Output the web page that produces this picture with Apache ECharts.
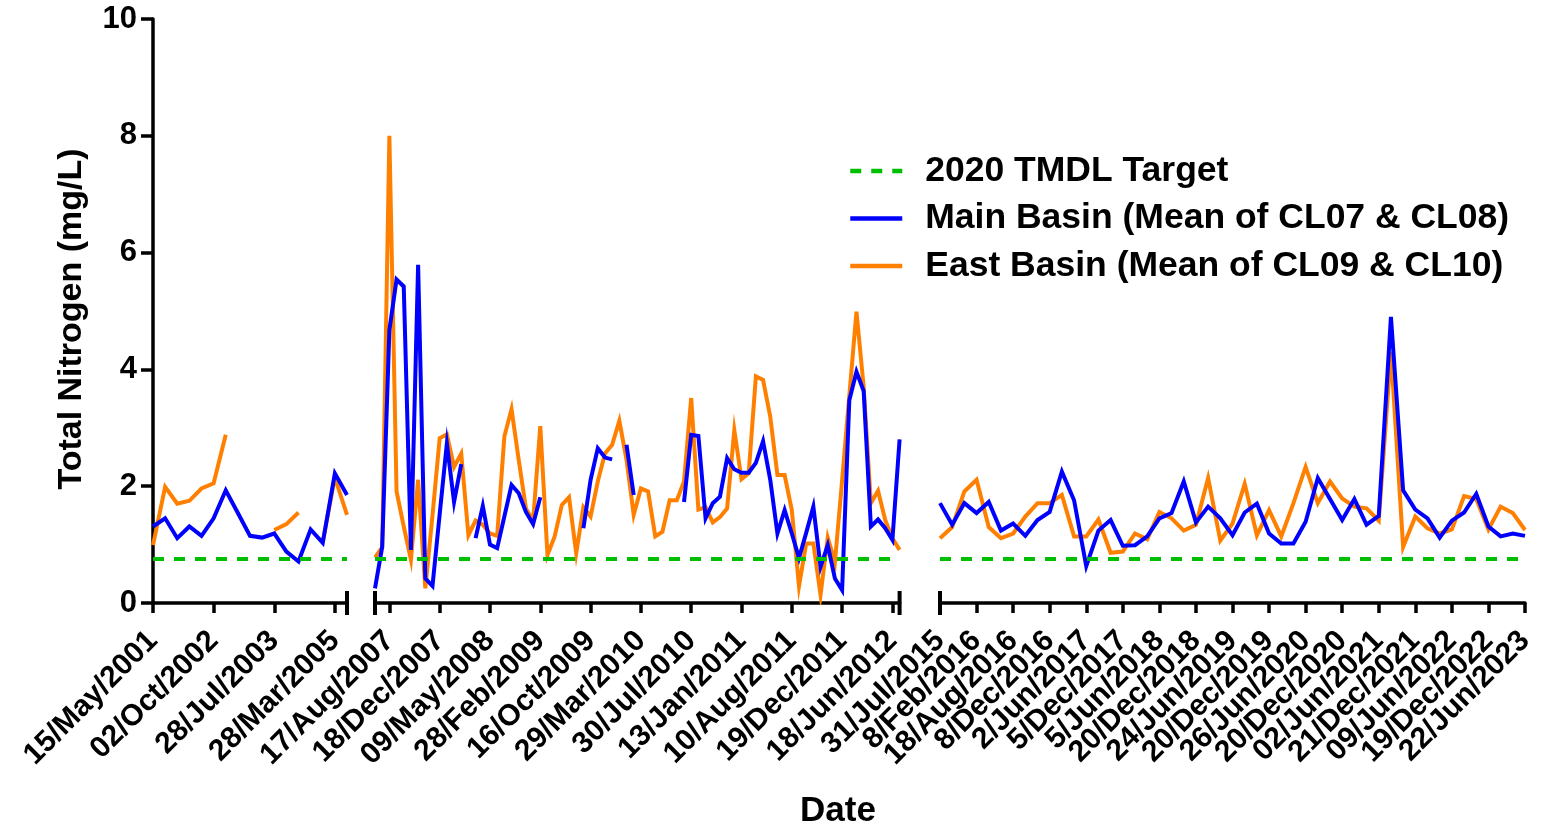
<!DOCTYPE html>
<html>
<head>
<meta charset="utf-8">
<title>Total Nitrogen</title>
<script src="https://cdn.jsdelivr.net/npm/echarts@6/dist/echarts.min.js"></script>
<style>
  html, body { margin: 0; padding: 0; background: #fff; }
  #chart { width: 1552px; height: 832px; }
</style>
</head>
<body>
<div id="chart"></div>
<script>
// 目标值
var target = 0.75
var targetName = '2020 TMDL Target'
var mainName = 'Main Basin (Mean of CL07 & CL08)'
var eastName = 'East Basin (Mean of CL09 & CL10)'

// 第一段 2001-2005
var seg1Ticks = ['15/May/2001', '02/Oct/2002', '28/Jul/2003', '28/Mar/2005']
var seg1Main = [1.31, 1.45, 1.11, 1.31, 1.15, 1.45, 1.93, 1.54, 1.15, 1.12, 1.19, 0.88, 0.71, 1.26, 1.03, 2.22, 1.85]
var seg1East = [0.99, 1.99, 1.70, 1.75, 1.96, 2.05, 2.88, null, null, null, 1.25, 1.35, 1.55, null, 1.05, 2.15, 1.51]

// 第二段 2007-2012
var seg2Ticks = ['17/Aug/2007', '18/Dec/2007', '09/May/2008', '28/Feb/2009', '16/Oct/2009', '29/Mar/2010',
  '30/Jul/2010', '13/Jan/2011', '10/Aug/2011', '19/Dec/2011', '18/Jun/2012']
var seg2Main = [0.25, 0.96, 4.67, 5.54, 5.42, 0.91, 5.79, 0.42, 0.29, 1.52,
  2.73, 1.73, 2.38, null, 1.11, 1.66, 1.00, 0.94, 1.48, 2.02,
  1.88, 1.56, 1.35, 1.81, null, null, null, null, null, 1.28,
  2.11, 2.65, 2.49, 2.46, null, 2.71, 1.85, null, null, null,
  null, null, null, 1.73, 2.88, 2.86, 1.45, 1.71, 1.82, 2.48,
  2.29, 2.23, 2.23, 2.40, 2.77, 2.11, 1.19, 1.59, 1.19, 0.77,
  1.20, 1.65, 0.62, 0.99, 0.42, 0.22, 3.47, 3.96, 3.63, 1.31,
  1.43, 1.28, 1.08, 2.80]
var seg2East = [0.78, 0.95, 8.00, 1.91, 1.31, 0.74, 2.11, 0.25, 1.50, 2.82,
  2.89, 2.33, 2.56, 1.16, 1.41, 1.34, 1.19, 1.15, 2.85, 3.32,
  2.45, 1.62, 1.41, 3.03, 0.82, 1.14, 1.68, 1.81, 0.85, 1.64,
  1.48, 2.08, 2.56, 2.71, 3.12, 2.45, 1.51, 1.96, 1.91, 1.14,
  1.22, 1.76, 1.76, 2.08, 3.51, 1.60, 1.64, 1.38, 1.47, 1.62,
  2.96, 2.12, 2.22, 3.88, 3.82, 3.19, 2.19, 2.19, 1.59, 0.29,
  1.02, 1.02, 0.14, 1.12, 0.70, 2.10, 3.55, 4.99, 3.70, 1.71,
  1.92, 1.42, 1.11, 0.91]

// 第三段 2015-2023
var seg3Ticks = ['31/Jul/2015', '8/Feb/2016', '18/Aug/2016', '8/Dec/2016', '2/Jun/2017', '5/Dec/2017',
  '5/Jun/2018', '20/Dec/2018', '24/Jun/2019', '20/Dec/2019', '26/Jun/2020', '20/Dec/2020',
  '02/Jun/2021', '21/Dec/2021', '09/Jun/2022', '19/Dec/2022', '22/Jun/2023']
var seg3Main = [1.71, 1.34, 1.71, 1.54, 1.73, 1.24, 1.36, 1.15, 1.42, 1.56,
  2.25, 1.76, 0.63, 1.24, 1.42, 0.98, 0.99, 1.14, 1.45, 1.54,
  2.08, 1.38, 1.65, 1.45, 1.16, 1.55, 1.70, 1.19, 1.02, 1.02,
  1.39, 2.14, 1.78, 1.42, 1.78, 1.34, 1.49, 4.90, 1.93, 1.60,
  1.45, 1.12, 1.41, 1.55, 1.87, 1.31, 1.14, 1.19, 1.15]
var seg3East = [1.11, 1.30, 1.91, 2.11, 1.30, 1.11, 1.19, 1.48, 1.71, 1.71,
  1.85, 1.14, 1.14, 1.43, 0.86, 0.88, 1.19, 1.09, 1.56, 1.45,
  1.24, 1.34, 2.14, 1.07, 1.36, 2.04, 1.16, 1.59, 1.14, 1.71,
  2.33, 1.71, 2.08, 1.79, 1.65, 1.62, 1.41, 4.30, 0.96, 1.48,
  1.28, 1.19, 1.26, 1.83, 1.78, 1.26, 1.65, 1.54, 1.25]

var font = '"Liberation Sans", Arial, Helvetica, sans-serif'
var green = '#00bf00'
var blue = '#0000ff'
var orange = '#ff8000'
var axisStyle = { color: '#000', width: 3.5 }

function makeXAxis (gi, count, ticks, offset, step, breaks) {
  var cats = []
  for (var i = 0; i < count; i++) cats.push(String(i))
  var show = function (i) { return i >= offset && (i - offset) % step === 0 }
  return {
    type: 'category',
    gridIndex: gi,
    boundaryGap: false,
    data: cats,
    // 断轴标记
    axisLine: { lineStyle: axisStyle, symbol: breaks, symbolSize: [24, 4] },
    axisTick: { length: 10, lineStyle: axisStyle, interval: show },
    // interval 0 让 echarts 不去隐藏首尾相邻的标签，空字符串代替不显示的
    axisLabel: {
      interval: 0,
      hideOverlap: false,
      rotate: 45,
      margin: 33,
      color: '#000',
      fontSize: 30,
      fontWeight: 'bold',
      fontFamily: font,
      formatter: function (v, i) { return show(i) ? ticks[(i - offset) / step] : '' }
    },
    splitLine: { show: false }
  }
}

function makeYAxis (gi) {
  var y = {
    type: 'value',
    gridIndex: gi,
    min: 0,
    max: 10,
    interval: 2,
    show: gi === 0,
    axisLine: { show: true, lineStyle: axisStyle },
    axisTick: { show: true, length: 12, lineStyle: axisStyle },
    axisLabel: { margin: 16, color: '#000', fontSize: 31, fontWeight: 'bold', fontFamily: font },
    splitLine: { show: false }
  }
  if (gi === 0) {
    y.name = 'Total Nitrogen (mg/L)'
    y.nameLocation = 'middle'
    y.nameRotate = 90
    y.nameGap = 64
    y.nameTextStyle = { color: '#000', fontSize: 34, fontWeight: 'bold', fontFamily: font, padding: [0, 16, 0, 0] }
  }
  return y
}

function lineSeries (name, color, data, gi) {
  return {
    name: name,
    type: 'line',
    xAxisIndex: gi,
    yAxisIndex: gi,
    data: data,
    symbol: 'none',
    connectNulls: false,
    lineStyle: { color: color, width: 4, join: 'miter' },
    itemStyle: { color: color }
  }
}

function targetSeries (gi) {
  var dash = { color: green, width: 4, type: [11, 10] }
  return {
    name: targetName,
    type: 'line',
    xAxisIndex: gi,
    yAxisIndex: gi,
    data: [],
    symbol: 'none',
    lineStyle: dash,
    itemStyle: { color: green },
    markLine: {
      silent: true,
      symbol: 'none',
      label: { show: false },
      lineStyle: dash,
      data: [{ yAxis: target }]
    }
  }
}

var grid = { top: 19, height: 584, containLabel: false, outerBoundsMode: 'none' }

var mychart = echarts.init(document.getElementById('chart'))
var option = {
  animation: false,
  backgroundColor: '#fff',
  title: {
    text: 'Date',
    left: 800,
    top: 794,
    padding: 0,
    textStyle: { color: '#000', fontSize: 35, fontWeight: 'bold', fontFamily: font }
  },
  legend: {
    data: [targetName, mainName, eastName],
    orient: 'vertical',
    left: 848,
    top: 151,
    padding: 0,
    itemWidth: 52,
    itemHeight: 14,
    itemGap: 7.5,
    selectedMode: false,
    // 图例只画线，不画圆点
    itemStyle: { opacity: 0 },
    lineStyle: { width: 4.5 },
    textStyle: { color: '#000', fontSize: 35.5, fontWeight: 'bold', fontFamily: font, lineHeight: 40, padding: [0, 0, 0, 18] }
  },
  grid: [
    Object.assign({ left: 153, width: 194 }, grid),
    Object.assign({ left: 375, width: 524.6 }, grid),
    Object.assign({ left: 940, width: 585 }, grid)
  ],
  xAxis: [
    makeXAxis(0, seg1Main.length, seg1Ticks, 0, 5, ['none', 'rect']),
    makeXAxis(1, seg2Main.length, seg2Ticks, 2, 7, ['rect', 'rect']),
    makeXAxis(2, seg3Main.length, seg3Ticks, 0, 3, ['rect', 'none'])
  ],
  yAxis: [makeYAxis(0), makeYAxis(1), makeYAxis(2)],
  series: [
    lineSeries(eastName, orange, seg1East, 0),
    lineSeries(mainName, blue, seg1Main, 0),
    targetSeries(0),
    lineSeries(eastName, orange, seg2East, 1),
    lineSeries(mainName, blue, seg2Main, 1),
    targetSeries(1),
    lineSeries(eastName, orange, seg3East, 2),
    lineSeries(mainName, blue, seg3Main, 2),
    targetSeries(2)
  ]
}
mychart.setOption(option)
</script>
</body>
</html>
